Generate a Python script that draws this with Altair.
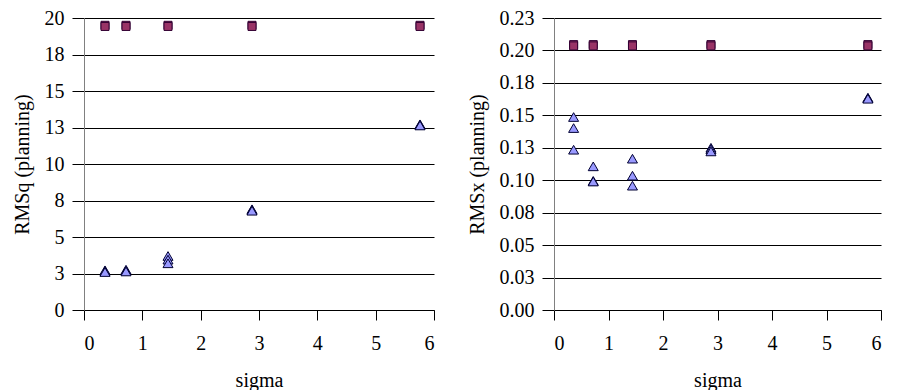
import altair as alt
import pandas as pd

sigma = [0.36, 0.72, 1.44, 2.88, 5.76]

# left panel: RMSq
rmsq_square = [[19.5, 19.42], [19.5, 19.42], [19.5, 19.42], [19.5, 19.42], [19.5, 19.42]]
rmsq_triangle = [[2.72, 2.66, 2.6], [2.76, 2.7, 2.64], [3.7, 3.45, 3.2], [6.9, 6.85, 6.8], [12.72, 12.68, 12.64]]

# right panel: RMSx
rmsx_square = [[0.2045, 0.2035], [0.2045, 0.2035], [0.2045, 0.2035], [0.2045, 0.2035], [0.2045, 0.2035]]
rmsx_triangle = [[0.1487, 0.1402, 0.1235], [0.1107, 0.0995, 0.0990], [0.1166, 0.1035, 0.0958],
                 [0.1250, 0.1238, 0.1222], [0.1636, 0.1632, 0.1628]]

x_ticks = [0, 1, 2, 3, 4, 5, 6]
q_ticks = [0, 2.5, 5, 7.5, 10, 12.5, 15, 17.5, 20]
x_ticks_r = [0, 0.025, 0.05, 0.075, 0.1, 0.125, 0.15, 0.175, 0.2, 0.225]


def frame(squares, triangles):
    rows = []
    for s, sq, tr in zip(sigma, squares, triangles):
        for v in sq:
            rows.append({"sigma": s, "value": v, "kind": "square"})
        for v in tr:
            rows.append({"sigma": s, "value": v, "kind": "triangle"})
    return pd.DataFrame(rows)


FONT = "Liberation Serif"
FS = 20

xaxis = alt.Axis(values=x_ticks, title="sigma", grid=False, tickSize=10, tickColor="#000000",
                 domainColor="#000000", labelPadding=13, titlePadding=17, format="d",
                 labelFont=FONT, labelFontSize=FS, titleFont=FONT, titleFontSize=FS,
                 titleFontWeight="normal", labelColor="#000000", titleColor="#000000")


def panel(df, title, ticks, top, label_expr, width):
    base = alt.Chart(df)
    x = alt.X("sigma:Q", scale=alt.Scale(domain=[0, 6], nice=False), axis=xaxis)
    y = alt.Y("value:Q", scale=alt.Scale(domain=[0, top], nice=False, zero=True),
              axis=alt.Axis(values=ticks, title=title, grid=True, gridColor="#000000",
                            gridOpacity=1, tickSize=12, tickColor="#000000",
                            domainColor="#808080", labelPadding=8, titlePadding=12,
                            labelExpr=label_expr,
                            labelFont=FONT, labelFontSize=FS, titleFont=FONT, titleFontSize=FS,
                            titleFontWeight="normal", labelColor="#000000", titleColor="#000000"))
    sq = base.transform_filter(alt.datum.kind == "square").mark_point(
        shape="square", filled=True, size=64, fill="#993366", stroke="#330033",
        strokeWidth=1, opacity=1).encode(x=x, y=y)
    tr = base.transform_filter(alt.datum.kind == "triangle").mark_point(
        shape="triangle-up", filled=True, size=100, fill="#9999FF", stroke="#000033",
        strokeWidth=1, opacity=1).encode(x=x, y=y)
    return alt.layer(sq, tr).properties(width=width, height=292)


left = panel(frame(rmsq_square, rmsq_triangle), "RMSq (planning)", q_ticks, 20,
             "format(round(datum.value), 'd')", 350)
right = panel(frame(rmsx_square, rmsx_triangle), "RMSx (planning)", x_ticks_r, 0.225,
              "format(round(datum.value * 100 + 1e-9) / 100, '.2f')", 327)

chart = alt.hconcat(left, right, spacing=32).properties(
    padding={"left": 4, "top": 0, "right": 0, "bottom": 0}
).configure(font=FONT).configure_view(stroke=None)

chart.save("out.html", embed_options={"renderer": "svg", "actions": False})
